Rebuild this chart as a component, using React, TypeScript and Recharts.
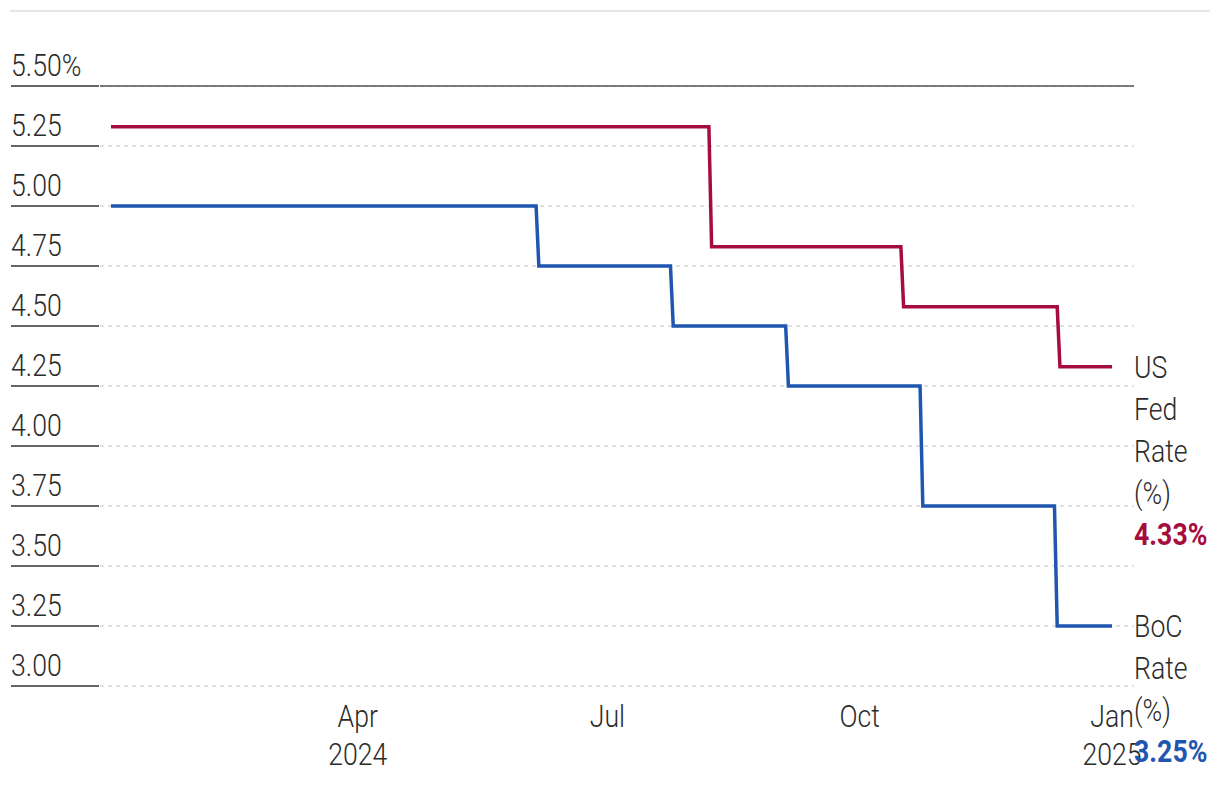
import { LineChart, Line, XAxis, YAxis, CartesianGrid, ReferenceLine } from "recharts";

const FONT = "Roboto, 'Liberation Sans', sans-serif";
const SQUEEZE = 0.86; // no condensed face installed, so narrow Roboto by hand
const RED = "#A60C3E";
const BLUE = "#1F56B0";

// daily series at each step change
const fedDates = [
  "2024-01-02", "2024-08-07", "2024-08-08", "2024-10-16",
  "2024-10-17", "2024-12-12", "2024-12-13", "2025-01-01",
];
const fedRates = [5.33, 5.33, 4.83, 4.83, 4.58, 4.58, 4.33, 4.33];

const bocDates = [
  "2024-01-02", "2024-06-05", "2024-06-06", "2024-07-24", "2024-07-25",
  "2024-09-04", "2024-09-05", "2024-10-23", "2024-10-24", "2024-12-11",
  "2024-12-12", "2025-01-01",
];
const bocRates = [5.0, 5.0, 4.75, 4.75, 4.5, 4.5, 4.25, 4.25, 3.75, 3.75, 3.25, 3.25];

const yTicks = [3, 3.25, 3.5, 3.75, 4, 4.25, 4.5, 4.75, 5, 5.25, 5.5];
const xTickDates = ["2024-04-01", "2024-07-01", "2024-10-01", "2025-01-01"];
const xTickMonths = ["Apr", "Jul", "Oct", "Jan"];
const xTickYears = ["2024", "", "", "2025"];
const xDomain = ["2023-12-29", "2025-01-09"];

const fedLabel = ["US", "Fed", "Rate", "(%)"];
const bocLabel = ["BoC", "Rate", "(%)"];

const ts = (d: string) => Date.parse(d + "T00:00:00Z");

const fedData = fedDates.map((d, i) => ({ date: ts(d), rate: fedRates[i] }));
const bocData = bocDates.map((d, i) => ({ date: ts(d), rate: bocRates[i] }));
const xTicks = xTickDates.map(ts);

function NarrowText({ x, y, anchor = "start", fill = "#2b2b2b", bold = false, children }: any) {
  return (
    <text
      transform={`translate(${x},${y}) scale(${SQUEEZE},1)`}
      textAnchor={anchor}
      fontSize={31}
      fontWeight={bold ? 700 : 300}
      fill={fill}
      fontFamily={FONT}
    >
      {children}
    </text>
  );
}

function YTick(props: any) {
  const { x, y, payload } = props;
  const v = payload.value as number;
  const label = v === 5.5 ? v.toFixed(2) + "%" : v.toFixed(2);
  return (
    <g>
      <line x1={x - 89} x2={x - 1} y1={y} y2={y} stroke="#666" strokeWidth={2} />
      <NarrowText x={x - 89} y={y - 10}>{label}</NarrowText>
    </g>
  );
}

function XTick(props: any) {
  const { x, y, payload } = props;
  const i = xTicks.indexOf(payload.value);
  return (
    <g>
      <NarrowText x={x} y={y + 41} anchor="middle">{xTickMonths[i]}</NarrowText>
      {xTickYears[i] && (
        <NarrowText x={x} y={y + 79} anchor="middle">{xTickYears[i]}</NarrowText>
      )}
    </g>
  );
}

const endLabel = (lines: string[], color: string, last: number) => (props: any) => {
  const { x, y, index, value } = props;
  if (index !== last) return <g />;
  return (
    <g>
      {lines.map((t, k) => (
        <NarrowText key={k} x={x + 22} y={y + 11 + k * 42}>{t}</NarrowText>
      ))}
      <NarrowText x={x + 22} y={y + 10 + lines.length * 42} fill={color} bold>
        {Number(value).toFixed(2)}%
      </NarrowText>
    </g>
  );
};

export default function App() {
  return (
    <div style={{ position: "absolute", left: 0, top: 0, width: 1220, height: 786 }}>
      <div
        style={{
          position: "absolute",
          left: 10,
          top: 10,
          width: 1200,
          height: 2,
          background: "#e6e6e6",
        }}
      />
      <LineChart
        width={1220}
        height={786}
        margin={{ top: 86, right: 86, bottom: 70, left: 10 }}
      >
        <CartesianGrid vertical={false} stroke="#e0e0e0" strokeWidth={2} strokeDasharray="4 4" />
        <XAxis
          dataKey="date"
          type="number"
          scale="time"
          domain={xDomain.map(ts)}
          ticks={xTicks}
          tick={<XTick />}
          axisLine={false}
          tickLine={false}
          tickSize={0}
          tickMargin={0}
          height={30}
          allowDataOverflow
        />
        <YAxis
          type="number"
          domain={[3, 5.5]}
          ticks={yTicks}
          tick={<YTick />}
          axisLine={false}
          tickLine={false}
          tickSize={0}
          tickMargin={0}
          width={90}
        />
        <ReferenceLine y={5.5} stroke="#555" strokeWidth={1.5} />
        <Line
          data={fedData}
          dataKey="rate"
          type="linear"
          stroke={RED}
          strokeWidth={3.5}
          dot={false}
          isAnimationActive={false}
          label={endLabel(fedLabel, RED, fedData.length - 1)}
        />
        <Line
          data={bocData}
          dataKey="rate"
          type="linear"
          stroke={BLUE}
          strokeWidth={3.5}
          dot={false}
          isAnimationActive={false}
          label={endLabel(bocLabel, BLUE, bocData.length - 1)}
        />
      </LineChart>
    </div>
  );
}
